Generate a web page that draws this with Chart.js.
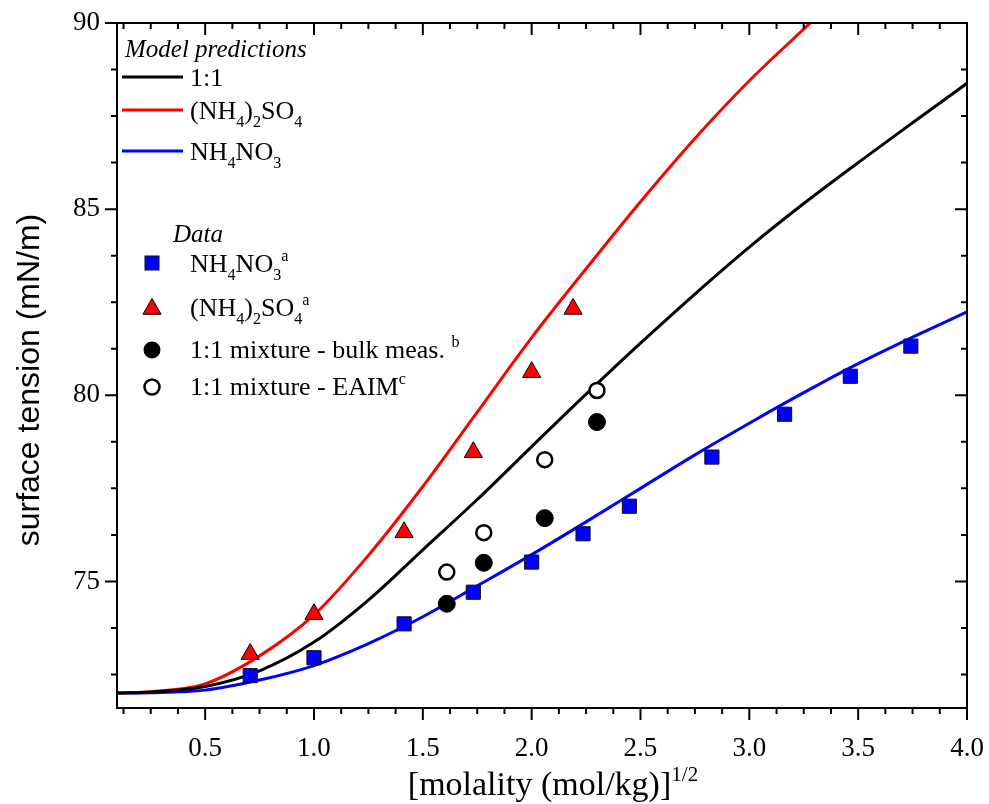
<!DOCTYPE html>
<html>
<head>
<meta charset="utf-8">
<script src="https://cdn.jsdelivr.net/npm/chart.js@4.4.1/dist/chart.umd.min.js"></script>
<style>
  html, body { margin: 0; padding: 0; background: #fff; }
</style>
</head>
<body>
<canvas id="chart" width="989" height="804"></canvas>
<script>
/*
 * Values: x = [molality]^1/2, y = surface tension (mN/m)
 */

// model prediction curves
const curveX = [0.1, 0.25, 0.5, 0.75, 1.0, 1.25, 1.5, 1.75, 2.0, 2.25, 2.5, 2.75, 3.0, 3.25, 3.5, 3.75, 4.0];
const model11 = [72.0, 72.03, 72.18, 72.6, 73.37, 74.5, 75.85, 77.2, 78.62, 80.03, 81.4, 82.72, 83.98, 85.15, 86.25, 87.32, 88.38];
const modelAN = [72.0, 72.01, 72.08, 72.35, 72.74, 73.33, 74.05, 74.88, 75.72, 76.6, 77.5, 78.4, 79.25, 80.07, 80.85, 81.56, 82.24];
const modelASX = [0.1, 0.25, 0.5, 0.75, 1.0, 1.25, 1.5, 1.75, 2.0, 2.25, 2.5, 2.75, 3.0, 3.28];
const modelAS = [72.0, 72.04, 72.25, 73.0, 74.1, 75.7, 77.55, 79.55, 81.55, 83.4, 85.2, 86.9, 88.45, 90.0];

// measured data
const anX = [0.707, 1.0, 1.414, 1.732, 2.0, 2.236, 2.449, 2.828, 3.162, 3.464, 3.742];
const anY = [72.47, 72.95, 73.86, 74.71, 75.52, 76.28, 77.02, 78.34, 79.49, 80.51, 81.32];
const asX = [0.707, 1.0, 1.414, 1.732, 2.0, 2.19];
const asY = [73.05, 74.12, 76.32, 78.47, 80.62, 82.32];
const mixX = [1.61, 1.78, 2.06, 2.30];
const mixBulk = [74.4, 75.5, 76.7, 79.28];
const mixEaim = [75.25, 76.31, 78.27, 80.13];

// tick values (major every 0.5 / 5, minor in between)
const xTicks = [];
for (let k = 1; k <= 32; k++) xTicks.push(k * 0.125);
const yTicks = [];
for (let k = 0; k <= 14; k++) yTicks.push(72.5 + k * 1.25);

const SERIF = '"Liberation Serif", "DejaVu Serif", serif';
const SANS = '"Liberation Sans", Arial, sans-serif';

const isMajorX = v => Math.abs(v / 0.5 - Math.round(v / 0.5)) < 1e-6;
const isMajorY = v => Math.abs(v / 5 - Math.round(v / 5)) < 1e-6;

function toPts(xs, ys) {
    return xs.map((x, i) => ({ x: x, y: ys[i] }));
}

// text with sub/superscripts: parts = [[text, -1|0|1], ...]
function richText(ctx, x, y, parts, size, style) {
    let cx = x;
    parts.forEach(p => {
        const mode = p[1];
        const s = mode === 0 ? size : size * 0.62;
        const dy = mode === -1 ? size * 0.3 : (mode === 1 ? -size * 0.42 : 0);
        ctx.font = (style || '') + ' ' + s + 'px ' + SERIF;
        ctx.fillText(p[0], cx, y + dy);
        cx += ctx.measureText(p[0]).width;
    });
    return cx - x;
}

function measureRich(ctx, parts, size, style) {
    let w = 0;
    parts.forEach(p => {
        const s = p[1] === 0 ? size : size * 0.62;
        ctx.font = (style || '') + ' ' + s + 'px ' + SERIF;
        w += ctx.measureText(p[0]).width;
    });
    return w;
}

const framePlugin = {
    id: 'frame',
    afterDraw(chart) {
        const ctx = chart.ctx;
        const a = chart.chartArea;
        const xs = chart.scales.x;
        const ys = chart.scales.y;
        ctx.save();
        ctx.strokeStyle = '#000';
        ctx.lineWidth = 2;
        ctx.strokeRect(a.left, a.top, a.right - a.left, a.bottom - a.top);

        // tick marks: outward on left/bottom, inward on top/right
        ctx.beginPath();
        xs.ticks.forEach(t => {
            const px = xs.getPixelForValue(t.value);
            const len = isMajorX(t.value) ? 12 : 6;
            ctx.moveTo(px, a.bottom); ctx.lineTo(px, a.bottom + len);
            ctx.moveTo(px, a.top); ctx.lineTo(px, a.top + len);
        });
        ys.ticks.forEach(t => {
            const py = ys.getPixelForValue(t.value);
            const len = isMajorY(t.value) ? 12 : 6;
            ctx.moveTo(a.left, py); ctx.lineTo(a.left - len, py);
            ctx.moveTo(a.right, py); ctx.lineTo(a.right - len, py);
        });
        ctx.stroke();

        ctx.fillStyle = '#000';
        ctx.textBaseline = 'alphabetic';
        ctx.textAlign = 'left';

        // x axis title
        const xt = [['[molality (mol/kg)]', 0], ['1/2', 1]];
        const xw = measureRich(ctx, xt, 34);
        richText(ctx, (a.left + a.right) / 2 + 11 - xw / 2, 795, xt, 34);

        // y axis title
        ctx.save();
        ctx.translate(30, 380);
        ctx.rotate(-Math.PI / 2);
        ctx.font = '32px ' + SANS;
        ctx.textAlign = 'center';
        ctx.textBaseline = 'middle';
        ctx.fillText('surface tension (mN/m)', 0, 0);
        ctx.restore();

        // legend: model predictions
        const L = a.left;
        richText(ctx, L + 8, 57, [['Model predictions', 0]], 25, 'italic');
        const lines = [
            { c: '#000000', y: 77, t: [['1:1', 0]] },
            { c: '#ff0000', y: 110, t: [['(NH', 0], ['4', -1], [')', 0], ['2', -1], ['SO', 0], ['4', -1]] },
            { c: '#0000ff', y: 151, t: [['NH', 0], ['4', -1], ['NO', 0], ['3', -1]] }
        ];
        lines.forEach(l => {
            ctx.strokeStyle = l.c;
            ctx.lineWidth = 3;
            ctx.beginPath();
            ctx.moveTo(L + 5, l.y); ctx.lineTo(L + 66, l.y);
            ctx.stroke();
            ctx.fillStyle = '#000';
            richText(ctx, L + 73, l.y + 9, l.t, 26);
        });

        // legend: data
        richText(ctx, L + 56, 242, [['Data', 0]], 25, 'italic');
        const mx = L + 35;
        // square
        ctx.lineWidth = 1;
        ctx.strokeStyle = '#111';
        ctx.fillStyle = '#0000ff';
        ctx.fillRect(mx - 7, 263 - 7, 14, 14);
        ctx.strokeRect(mx - 7, 263 - 7, 14, 14);
        // triangle
        const r = 10.5;
        ctx.fillStyle = '#ff0000';
        ctx.strokeStyle = '#000';
        ctx.beginPath();
        ctx.moveTo(mx, 309 - r);
        ctx.lineTo(mx + r * 0.866, 309 + r / 2);
        ctx.lineTo(mx - r * 0.866, 309 + r / 2);
        ctx.closePath();
        ctx.fill(); ctx.stroke();
        // filled circle
        ctx.fillStyle = '#000';
        ctx.beginPath(); ctx.arc(mx, 350, 8.5, 0, Math.PI * 2); ctx.fill();
        // open circle
        ctx.lineWidth = 2.5;
        ctx.fillStyle = '#fff';
        ctx.beginPath(); ctx.arc(mx, 387, 7.5, 0, Math.PI * 2); ctx.fill(); ctx.stroke();

        ctx.fillStyle = '#000';
        richText(ctx, L + 73, 272, [['NH', 0], ['4', -1], ['NO', 0], ['3', -1], ['a', 1]], 26);
        richText(ctx, L + 73, 316, [['(NH', 0], ['4', -1], [')', 0], ['2', -1], ['SO', 0], ['4', -1], ['a', 1]], 26);
        richText(ctx, L + 73, 358, [['1:1 mixture - bulk meas. ', 0], ['b', 1]], 26);
        richText(ctx, L + 73, 395, [['1:1 mixture - EAIM', 0], ['c', 1]], 26);
        ctx.restore();
    }
};

const lineStyle = (label, xs, ys, color) => ({
    label: label,
    data: toPts(xs, ys),
    showLine: true,
    borderColor: color,
    borderWidth: 3,
    pointRadius: 0,
    cubicInterpolationMode: 'monotone',
    order: 2
});

const ctx = document.getElementById('chart').getContext('2d');

const chart = new Chart(ctx, {
    type: 'scatter',
    data: {
        datasets: [
            lineStyle('1:1', curveX, model11, '#000000'),
            lineStyle('(NH4)2SO4', modelASX, modelAS, '#ff0000'),
            lineStyle('NH4NO3', curveX, modelAN, '#0000ff'),
            {
                label: 'NH4NO3 data',
                data: toPts(anX, anY),
                pointStyle: 'rect',
                pointRadius: 10,
                backgroundColor: '#0000ff',
                borderColor: '#111111',
                borderWidth: 1,
                order: 1
            },
            {
                label: '(NH4)2SO4 data',
                data: toPts(asX, asY),
                pointStyle: 'triangle',
                pointRadius: 10.5,
                backgroundColor: '#ff0000',
                borderColor: '#000000',
                borderWidth: 1,
                order: 1
            },
            {
                label: '1:1 mixture - bulk meas.',
                data: toPts(mixX, mixBulk),
                pointStyle: 'circle',
                pointRadius: 8.5,
                backgroundColor: '#000000',
                borderColor: '#000000',
                borderWidth: 1,
                order: 1
            },
            {
                label: '1:1 mixture - EAIM',
                data: toPts(mixX, mixEaim),
                pointStyle: 'circle',
                pointRadius: 7.5,
                backgroundColor: '#ffffff',
                borderColor: '#000000',
                borderWidth: 2.5,
                order: 1
            }
        ]
    },
    options: {
        responsive: false,
        animation: false,
        layout: { padding: { left: 0, top: 23, right: 22, bottom: 0 } },
        plugins: {
            legend: { display: false },
            tooltip: { enabled: false }
        },
        scales: {
            x: {
                type: 'linear',
                min: 0.095,
                max: 4.0,
                afterBuildTicks: (scale) => { scale.ticks = xTicks.map(v => ({ value: v })); },
                afterFit: (scale) => { scale.height = 96; },
                grid: { display: true, drawOnChartArea: false, drawTicks: true, tickLength: 25, tickColor: 'rgba(0,0,0,0)' },
                border: { display: false },
                ticks: {
                    autoSkip: false,
                    maxRotation: 0,
                    padding: 0,
                    color: '#000',
                    font: { family: SERIF, size: 27 },
                    callback: (v) => isMajorX(v) ? v.toFixed(1) : ''
                }
            },
            y: {
                type: 'linear',
                min: 71.6,
                max: 90,
                afterBuildTicks: (scale) => { scale.ticks = yTicks.map(v => ({ value: v })); },
                afterFit: (scale) => { scale.width = 117; },
                grid: { display: true, drawOnChartArea: false, drawTicks: true, tickLength: 17, tickColor: 'rgba(0,0,0,0)' },
                border: { display: false },
                ticks: {
                    autoSkip: false,
                    padding: 0,
                    color: '#000',
                    font: { family: SERIF, size: 27 },
                    callback: (v) => isMajorY(v) ? String(Math.round(v)) : ''
                }
            }
        }
    },
    plugins: [framePlugin]
});
</script>
</body>
</html>
